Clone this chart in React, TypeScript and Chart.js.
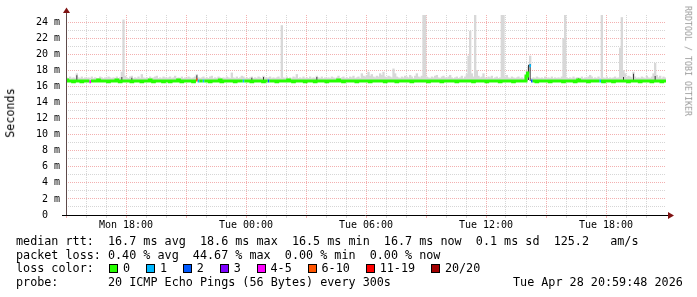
import React, { useEffect, useRef } from 'react';
import { Chart, registerables } from 'chart.js';

Chart.register(...registerables);

// ---- time axis (hours since Mon 00:00), one sample every 5 minutes ----
const START_HOUR = 15; // Mon 15:00
const END_HOUR = 45; // Tue 21:00
const STEP_HOURS = 1 / 12;

const xTickHours = [18, 24, 30, 36, 42];
const xTickLabels = ['Mon 18:00', 'Tue 00:00', 'Tue 06:00', 'Tue 12:00', 'Tue 18:00'];

// ---- median round trip time (ms), 360 samples ----
const medianRtt = [
  16.8, 16.7, 16.7, 16.7, 16.6, 16.7, 16.7, 16.7, 16.7, 16.6, 16.7, 16.7,
  16.7, 16.7, 16.6, 16.7, 16.7, 16.7, 16.7, 16.8, 16.7, 16.7, 16.7, 16.7,
  16.7, 16.6, 16.7, 16.7, 16.7, 16.7, 16.8, 16.7, 16.6, 16.7, 16.7, 16.7,
  16.7, 16.7, 16.7, 16.6, 16.7, 16.7, 16.7, 16.7, 16.7, 16.6, 16.7, 16.7,
  16.7, 16.7, 16.8, 16.7, 16.6, 16.7, 16.7, 16.7, 16.7, 16.7, 16.6, 16.7,
  16.7, 16.7, 16.6, 16.7, 16.7, 16.7, 16.7, 16.8, 16.7, 16.6, 16.7, 16.7,
  16.7, 16.7, 16.7, 16.7, 16.6, 16.7, 16.8, 16.7, 16.7, 16.7, 16.7, 16.7,
  16.7, 16.7, 16.6, 16.7, 16.7, 16.7, 16.7, 16.7, 16.8, 16.6, 16.7, 16.7,
  16.7, 16.7, 16.7, 16.7, 16.7, 16.6, 16.7, 16.7, 16.7, 16.7, 16.7, 16.7,
  16.7, 16.7, 16.7, 16.6, 16.7, 16.7, 16.7, 16.7, 16.7, 16.7, 16.6, 16.7,
  16.7, 16.7, 16.7, 16.7, 16.7, 16.7, 16.6, 16.7, 16.7, 16.7, 16.7, 16.7,
  16.7, 16.8, 16.7, 16.7, 16.6, 16.7, 16.7, 16.7, 16.7, 16.7, 16.7, 16.6,
  16.7, 16.7, 16.7, 16.7, 16.7, 16.6, 16.7, 16.7, 16.7, 16.7, 16.7, 16.7,
  16.6, 16.7, 16.7, 16.7, 16.7, 16.7, 16.7, 16.8, 16.7, 16.7, 16.6, 16.7,
  16.7, 16.7, 16.7, 16.7, 16.7, 16.7, 16.6, 16.7, 16.7, 16.7, 16.7, 16.7,
  16.7, 16.7, 16.6, 16.7, 16.7, 16.7, 16.7, 16.7, 16.7, 16.7, 16.7, 16.6,
  16.7, 16.7, 16.7, 16.7, 16.7, 16.7, 16.6, 16.7, 16.7, 16.7, 16.7, 16.7,
  16.7, 16.7, 16.7, 16.6, 16.7, 16.7, 16.7, 16.7, 16.7, 16.7, 16.7, 16.7,
  16.7, 16.6, 16.7, 16.7, 16.7, 16.7, 16.7, 16.7, 16.7, 16.6, 16.7, 16.7,
  16.7, 16.7, 16.7, 16.7, 16.7, 16.7, 16.6, 16.7, 16.7, 16.7, 16.7, 16.7,
  16.7, 16.7, 16.7, 16.7, 16.6, 16.7, 16.7, 16.7, 16.7, 16.7, 16.7, 16.7,
  16.6, 16.7, 16.7, 16.7, 16.7, 16.7, 16.7, 16.7, 16.6, 16.7, 16.7, 16.7,
  16.7, 16.7, 16.7, 16.7, 16.6, 16.7, 16.7, 16.7, 16.7, 16.7, 16.7, 16.7,
  17.3, 17.7, 18.6, 16.7, 16.7, 16.7, 16.6, 16.7, 16.7, 16.7, 16.7, 16.7,
  16.7, 16.7, 16.6, 16.7, 16.7, 16.7, 16.7, 16.7, 16.7, 16.7, 16.6, 16.7,
  16.7, 16.7, 16.7, 16.7, 16.7, 16.6, 16.7, 16.8, 16.7, 16.7, 16.7, 16.7,
  16.7, 16.6, 16.7, 16.7, 16.7, 16.7, 16.7, 16.7, 16.7, 16.7, 16.6, 16.7,
  16.7, 16.7, 16.7, 16.7, 16.6, 16.7, 16.7, 16.7, 16.7, 16.7, 16.7, 16.7,
  16.7, 16.6, 16.7, 16.7, 16.7, 16.7, 16.7, 16.7, 16.6, 16.7, 16.7, 16.7,
  16.7, 16.7, 16.7, 16.6, 16.7, 16.7, 16.7, 16.7, 16.7, 16.6, 16.7, 16.7,
];

// ---- highest ping of each sample (ms): the light "smoke" ----
const smokeMax = [
  17.1, 17.0, 17.2, 17.0, 17.1, 17.0, 17.6, 17.1, 17.0, 17.2, 17.0, 17.1,
  17.0, 17.1, 17.0, 17.2, 17.0, 17.1, 17.0, 17.0, 17.2, 17.1, 17.0, 17.1,
  17.0, 17.2, 17.1, 17.0, 17.1, 17.0, 17.2, 17.0, 17.1, 17.8, 24.3, 17.3,
  17.1, 17.0, 17.2, 17.3, 17.0, 17.1, 17.0, 17.2, 17.0, 17.5, 17.1, 17.0,
  17.1, 17.0, 17.2, 17.0, 17.1, 17.2, 17.3, 17.0, 17.1, 17.0, 17.2, 17.1,
  17.0, 17.1, 17.2, 17.0, 17.1, 17.3, 17.0, 17.1, 17.0, 17.2, 17.0, 17.1,
  17.0, 17.2, 17.1, 17.0, 17.1, 17.2, 17.5, 17.1, 17.0, 17.1, 17.2, 17.0,
  17.1, 17.0, 17.2, 17.3, 17.0, 17.1, 17.0, 17.2, 17.1, 17.0, 17.1, 17.0,
  17.2, 17.1, 17.0, 17.7, 17.1, 17.0, 17.2, 17.0, 17.1, 17.3, 17.2, 17.0,
  17.1, 17.0, 17.1, 17.2, 17.0, 17.1, 17.0, 17.2, 17.1, 17.0, 17.3, 17.1,
  17.0, 17.1, 17.2, 17.0, 17.1, 17.0, 17.1, 17.2, 17.0, 23.6, 17.1, 17.0,
  17.2, 17.0, 17.1, 17.0, 17.2, 17.1, 17.5, 17.0, 17.1, 17.0, 17.2, 17.0,
  17.1, 17.0, 17.2, 17.0, 17.1, 17.0, 17.3, 17.1, 17.0, 17.2, 17.0, 17.1,
  17.0, 17.1, 17.0, 17.2, 17.1, 17.0, 17.1, 17.3, 17.0, 17.1, 17.2, 17.0,
  17.1, 17.0, 17.2, 17.1, 17.3, 17.0, 17.1, 17.2, 17.0, 17.6, 17.3, 17.2,
  17.4, 17.8, 17.3, 17.5, 17.2, 17.1, 17.3, 17.2, 17.6, 17.4, 17.8, 17.2,
  17.1, 17.3, 17.2, 17.1, 18.2, 17.6, 17.2, 17.1, 17.0, 17.2, 17.1, 17.3,
  17.2, 17.1, 17.4, 17.2, 17.0, 17.3, 17.6, 17.2, 17.1, 17.3, 24.9, 24.9,
  17.2, 17.1, 17.0, 17.2, 17.1, 17.3, 17.4, 17.1, 17.0, 17.2, 17.3, 17.1,
  17.0, 17.2, 17.4, 17.1, 17.0, 17.1, 17.2, 17.0, 17.1, 17.3, 17.0, 17.2,
  17.5, 19.8, 22.9, 17.6, 17.2, 24.9, 18.0, 17.3, 17.1, 17.2, 17.6, 17.1,
  17.0, 17.2, 17.1, 17.3, 17.0, 17.1, 17.2, 17.0, 17.1, 24.9, 24.9, 17.2,
  17.4, 17.1, 17.0, 17.2, 17.1, 17.0, 17.1, 17.2, 17.0, 17.1, 17.0, 17.2,
  17.9, 18.5, 19.8, 17.0, 17.1, 17.0, 17.2, 17.1, 17.0, 17.1, 17.0, 17.2,
  17.0, 17.1, 17.0, 17.2, 17.0, 17.1, 17.0, 17.1, 17.0, 17.2, 22.0, 24.9,
  17.1, 17.0, 17.1, 17.0, 17.2, 17.0, 17.1, 17.1, 17.0, 17.2, 17.0, 17.1,
  17.0, 17.2, 17.4, 17.2, 17.0, 17.1, 17.0, 17.2, 17.0, 24.9, 17.1, 17.0,
  17.2, 17.0, 17.1, 17.0, 17.1, 17.2, 17.0, 17.1, 20.8, 24.6, 18.0, 17.6,
  17.1, 17.3, 17.2, 17.1, 17.8, 17.2, 17.0, 17.1, 17.0, 17.2, 17.1, 17.0,
  17.3, 17.1, 17.0, 17.2, 17.6, 18.9, 17.4, 17.1, 17.3, 17.0, 17.2, 17.1,
];

// ---- dense part of the smoke: [sample index, low (ms), high (ms)] ----
const darkSmoke: [number, number, number][] = [
  [6, 16.7, 17.4], [33, 16.7, 17.2], [39, 16.7, 17.1], [78, 16.8, 17.4],
  [111, 16.7, 17.1], [118, 16.7, 17.2], [150, 16.7, 17.2],
  [276, 16.7, 17.8], [277, 16.8, 18.7], [278, 16.7, 18.8],
  [307, 16.7, 17.0], [334, 16.7, 17.2], [340, 16.7, 17.6], [353, 16.7, 17.3],
];

// ---- lost pings out of 20: [sample index, lost count] ----
const lossEvents: [number, number][] = [
  [14, 4], [78, 9], [79, 1], [82, 1], [106, 1], [121, 2], [278, 1], [279, 2], [320, 1],
];

const lossLabels = ['0', '1', '2', '3', '4-5', '6-10', '11-19', '20/20'];
const lossUpper = [0, 1, 2, 3, 5, 10, 19, 20];
const lossColors = ['#26ff00', '#00b8ff', '#0059ff', '#7e00ff', '#ff00ff', '#ff5500', '#ff0000', '#a10000'];

const LEGEND_MEDIAN = 'median rtt:  16.7 ms avg  18.6 ms max  16.5 ms min  16.7 ms now  0.1 ms sd  125.2   am/s';
const LEGEND_LOSS = 'packet loss: 0.40 % avg  44.67 % max  0.00 % min  0.00 % now';
const LEGEND_LOSS_TITLE = 'loss color:';
const LEGEND_PROBE = 'probe:       20 ICMP Echo Pings (56 Bytes) every 300s';
const TIMESTAMP = 'Tue Apr 28 20:59:48 2026';
const Y_TITLE = 'Seconds';
const WATERMARK = 'RRDTOOL / TOBI OETIKER';

const MONO = "'DejaVu Sans Mono', monospace";
const CHAR_W = 7.08;
const MAJOR_GRID = '#f3b0b0';
const MINOR_GRID = '#d6d6d6';

function lossBucket(count: number): number {
  for (let k = 0; k < lossUpper.length; k++) {
    if (count <= lossUpper[k]) return k;
  }
  return lossUpper.length - 1;
}

const rrdAxes = {
  id: 'rrdAxes',
  afterDraw(chart: any) {
    const { ctx, chartArea } = chart;
    const { left, right, top, bottom } = chartArea;
    const ax = Math.round(left) + 0.5;
    const ay = Math.round(bottom) + 0.5;
    ctx.save();
    ctx.lineWidth = 1;
    ctx.strokeStyle = '#5e4a4a';
    ctx.beginPath();
    ctx.moveTo(ax, ay);
    ctx.lineTo(ax, top - 4);
    ctx.stroke();
    ctx.strokeStyle = '#000';
    ctx.beginPath();
    ctx.moveTo(left - 4, ay);
    ctx.lineTo(right + 3, ay);
    ctx.stroke();
    ctx.fillStyle = '#7f1212';
    ctx.beginPath();
    ctx.moveTo(ax - 3.5, top - 2);
    ctx.lineTo(ax + 3.5, top - 2);
    ctx.lineTo(ax, top - 7.5);
    ctx.closePath();
    ctx.fill();
    ctx.beginPath();
    ctx.moveTo(right + 2, ay - 3.5);
    ctx.lineTo(right + 2, ay + 3.5);
    ctx.lineTo(right + 8, ay);
    ctx.closePath();
    ctx.fill();
    ctx.restore();
  },
};

export default function App() {
  const ref = useRef<HTMLCanvasElement>(null);

  useEffect(() => {
    const canvas = ref.current;
    if (!canvas) return;
    const starts = medianRtt.map((_, i) => START_HOUR + i * STEP_HOURS);
    const ends = medianRtt.map((_, i) => START_HOUR + (i + 1) * STEP_HOURS);
    const centers = medianRtt.map((_, i) => START_HOUR + (i + 0.5) * STEP_HOURS);
    const lossCount = medianRtt.map(() => 0);
    lossEvents.forEach(([i, c]) => { lossCount[i] = c; });
    const buckets = lossCount.map(lossBucket);

    // one median line per loss colour, broken where another colour takes over
    const medianSets: any[] = [];
    lossColors.forEach((color, b) => {
      const pts: { x: number; y: number | null }[] = [];
      medianRtt.forEach((v, i) => {
        if (buckets[i] === b) {
          pts.push({ x: starts[i], y: v }, { x: ends[i], y: v });
        } else if (pts.length && pts[pts.length - 1].y !== null) {
          pts.push({ x: starts[i], y: null });
        }
      });
      if (pts.length) {
        medianSets.push({
          type: 'line',
          data: pts,
          borderColor: color,
          borderWidth: 3,
          borderCapStyle: 'butt',
          borderJoinStyle: 'miter',
          pointRadius: 0,
          spanGaps: false,
          order: 1,
        });
      }
    });

    const chart = new Chart(canvas, {
      type: 'bar',
      data: {
        datasets: [
          {
            type: 'bar',
            data: medianRtt.map((v, i) => ({ x: centers[i], y: [v, smokeMax[i]] })) as any,
            backgroundColor: '#d8d8d8',
            borderWidth: 0,
            grouped: false,
            barPercentage: 1,
            categoryPercentage: 1,
            order: 3,
          },
          {
            type: 'bar',
            data: darkSmoke.map(([i, lo, hi]) => ({ x: centers[i], y: [lo, hi] })) as any,
            backgroundColor: '#3a3a3a',
            borderWidth: 0,
            grouped: false,
            barPercentage: 0.6,
            categoryPercentage: 1,
            order: 2,
          },
          ...medianSets,
        ],
      },
      options: {
        animation: false,
        responsive: false,
        devicePixelRatio: 1,
        events: [],
        layout: { padding: { left: 0, right: 31, top: 15, bottom: 0 } },
        plugins: { legend: { display: false }, tooltip: { enabled: false } },
        scales: {
          x: {
            type: 'linear',
            min: START_HOUR,
            max: END_HOUR,
            offset: false,
            border: { display: false, dash: [1, 1] },
            grid: {
              offset: false,
              lineWidth: 1,
              drawTicks: true,
              tickLength: 3,
              tickBorderDash: [],
              color: (c: any) => {
                const v = Math.round(c.tick.value);
                if (v === END_HOUR) return 'rgba(0,0,0,0)';
                return v % 3 === 0 ? MAJOR_GRID : MINOR_GRID;
              },
              tickColor: (c: any) => {
                const v = Math.round(c.tick.value);
                if (v === END_HOUR) return 'rgba(0,0,0,0)';
                return v % 3 === 0 ? MAJOR_GRID : MINOR_GRID;
              },
            },
            ticks: {
              stepSize: 1,
              autoSkip: false,
              maxRotation: 0,
              minRotation: 0,
              includeBounds: false,
              padding: 1,
              color: '#000',
              font: { family: MONO, size: 10 },
              callback: (v: any) => {
                const k = xTickHours.indexOf(Math.round(Number(v)));
                return k >= 0 ? xTickLabels[k] : '';
              },
            },
            afterFit: (s: any) => { s.height = 82; },
          },
          y: {
            type: 'linear',
            min: 0,
            max: 24.91,
            border: { display: false, dash: [1, 1] },
            grid: {
              lineWidth: 1,
              drawTicks: false,
              color: (c: any) => (Math.round(c.tick.value) % 2 === 0 ? MAJOR_GRID : MINOR_GRID),
            },
            ticks: {
              stepSize: 1,
              includeBounds: false,
              autoSkip: false,
              padding: 6,
              color: '#000',
              font: { family: MONO, size: 10 },
              callback: (v: any) => {
                const n = Math.round(Number(v));
                if (n % 2 !== 0) return '';
                return n === 0 ? '0  ' : `${n} m`;
              },
            },
            afterFit: (s: any) => { s.width = 66; },
          },
        },
      } as any,
      plugins: [rrdAxes],
    });
    return () => chart.destroy();
  }, []);

  let bx = 109;
  const lossItems = lossLabels.map((label, k) => {
    const item = { label, color: lossColors[k], bx, lx: bx + 14 };
    bx = bx + 14 + label.length * CHAR_W + 15.8;
    return item;
  });

  const textBase: React.CSSProperties = {
    position: 'absolute',
    fontFamily: MONO,
    fontSize: '11.75px',
    lineHeight: '11.75px',
    whiteSpace: 'pre',
    color: '#000',
  };

  return (
    <div style={{ position: 'absolute', left: 0, top: 0, width: 697, height: 297, background: '#fff', overflow: 'hidden' }}>
      <canvas ref={ref} width={697} height={297} style={{ position: 'absolute', left: 0, top: 0, width: 697, height: 297 }} />
      <div style={{ ...textBase, left: 11, top: 113, transform: 'translate(-50%, -50%) rotate(-90deg)' }}>{Y_TITLE}</div>
      <div style={{ ...textBase, left: 688, top: 61, fontSize: '8.3px', lineHeight: '8.3px', color: '#9a9a9a', transform: 'translate(-50%, -50%) rotate(90deg)' }}>{WATERMARK}</div>
      <div style={{ ...textBase, left: 16, top: 236 }}>{LEGEND_MEDIAN}</div>
      <div style={{ ...textBase, left: 16, top: 249.7 }}>{LEGEND_LOSS}</div>
      <div style={{ ...textBase, left: 16, top: 263.4 }}>{LEGEND_LOSS_TITLE}</div>
      {lossItems.map((it) => (
        <React.Fragment key={it.label}>
          <div style={{ position: 'absolute', left: it.bx, top: 264, width: 9, height: 9, boxSizing: 'border-box', border: '1px solid #000', background: it.color }} />
          <div style={{ ...textBase, left: it.lx, top: 263.4 }}>{it.label}</div>
        </React.Fragment>
      ))}
      <div style={{ ...textBase, left: 16, top: 277.1 }}>{LEGEND_PROBE}</div>
      <div style={{ ...textBase, left: 513, top: 277.1 }}>{TIMESTAMP}</div>
    </div>
  );
}
